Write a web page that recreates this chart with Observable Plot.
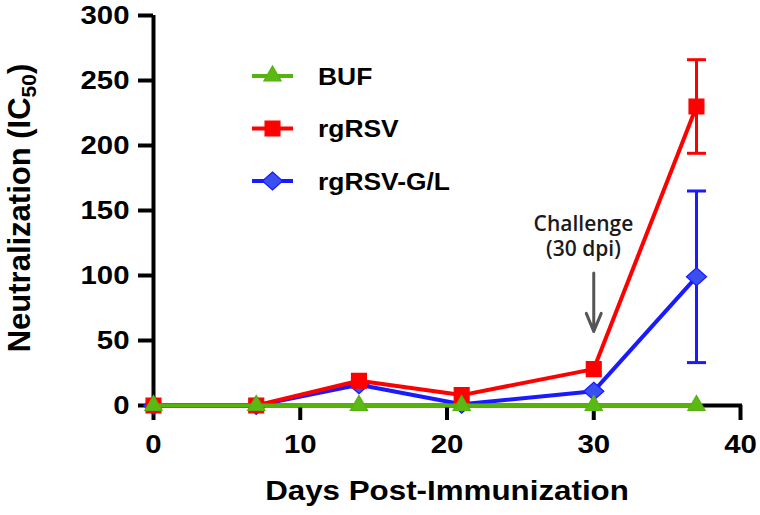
<!DOCTYPE html>
<html><head><meta charset="utf-8">
<script src="https://cdn.jsdelivr.net/npm/d3@7"></script>
<script src="https://cdn.jsdelivr.net/npm/@observablehq/plot@0.6"></script>
<style>
body{margin:0;background:#fff;}
#wrap{width:760px;height:515px;}
</style></head><body><div id="wrap"></div>
<script>
// ---- data ----
const days = [0, 7, 14, 21, 30, 37];
const seriesNames = ["BUF", "rgRSV", "rgRSV-G/L"];
const bufValues = [0, 0, 0, 0, 0, 0];
const rgrsvValues = [0, 0, 19, 8, 28, 230];
const rgrsvGLValues = [0, 0, 16, 1, 11, 99];
const errDays = [37];
const rgrsvLow = [194], rgrsvHigh = [266];
const rgrsvGLLow = [33], rgrsvGLHigh = [165];
const xTicks = [0, 10, 20, 30, 40];
const yTicks = [0, 50, 100, 150, 200, 250, 300];
const annotDay = [30];
const annotTextDay = [29.3];
const annotText = ["Challenge\n(30 dpi)"];
const annotTextY = [131];
const arrowFrom = [102], arrowTo = [57];
const xTitle = "Days Post-Immunization";
const yTitle = ["Neutralization (IC", "50", ")"];

// ---- styles ----
const colors = {"BUF": "#55b30c", "rgRSV": "#ff0000", "rgRSV-G/L": "#1a1aff"};
const fills = {"BUF": "#5cb814", "rgRSV": "#ff0000", "rgRSV-G/L": "#3a4ff0"};
const radii = {"BUF": 6.4, "rgRSV": 8.4, "rgRSV-G/L": 9};
const font = "Liberation Sans, Arial, Helvetica, sans-serif";

// wide diamond symbol
const wideDiamond = {draw(ctx, size) {
  const r = Math.sqrt(size / Math.PI), w = r * 1.12;
  ctx.moveTo(0, -r); ctx.lineTo(w, 0); ctx.lineTo(0, r); ctx.lineTo(-w, 0); ctx.closePath();
}};
const symbols = {"BUF": d3.symbolTriangle, "rgRSV": d3.symbolSquare, "rgRSV-G/L": wideDiamond};

const rowsOf = (name, vals) => days.map((d, i) => ({series: name, day: d, value: vals[i]}));
const data = {
  "BUF": rowsOf("BUF", bufValues),
  "rgRSV": rowsOf("rgRSV", rgrsvValues),
  "rgRSV-G/L": rowsOf("rgRSV-G/L", rgrsvGLValues)
};
const errs = {
  "rgRSV": errDays.map((d, i) => ({day: d, lo: rgrsvLow[i], hi: rgrsvHigh[i]})),
  "rgRSV-G/L": errDays.map((d, i) => ({day: d, lo: rgrsvGLLow[i], hi: rgrsvGLHigh[i]}))
};
const annot = annotDay.map((d, i) => ({day: d, tday: annotTextDay[i], text: annotText[i], ty: annotTextY[i], a1: arrowFrom[i], a2: arrowTo[i]}));

const cap = {draw(ctx, size) { const w = Math.sqrt(size / Math.PI); ctx.moveTo(-w, 0); ctx.lineTo(w, 0); }};

function seriesMarks(name) {
  const m = [];
  if (errs[name]) {
    m.push(Plot.ruleX(errs[name], {x: "day", y1: "lo", y2: "hi", stroke: colors[name], strokeWidth: 3}));
    m.push(Plot.dot(errs[name], {x: "day", y: "lo", symbol: cap, r: 9.5, stroke: colors[name], strokeWidth: 3, fill: "none"}));
    m.push(Plot.dot(errs[name], {x: "day", y: "hi", symbol: cap, r: 9.5, stroke: colors[name], strokeWidth: 3, fill: "none"}));
  }
  m.push(Plot.line(data[name], {x: "day", y: "value", stroke: colors[name], strokeWidth: 4}));
  m.push(Plot.dot(data[name], {x: "day", y: "value", symbol: symbols[name], r: radii[name], fill: fills[name], stroke: colors[name], strokeWidth: 1.2}));
  return m;
}

const chart = Plot.plot({
  width: 760, height: 515,
  marginLeft: 153, marginRight: 20, marginTop: 15, marginBottom: 110,
  x: {domain: [0, 40]},
  y: {domain: [0, 300]},
  style: {fontFamily: font, background: "#fff", color: "#000"},
  marks: [
    Plot.axisY({ticks: yTicks, tickSize: 15, tickPadding: 9, fontSize: 26, fontWeight: "bold", label: null, strokeWidth: 4}),
    Plot.axisX({ticks: xTicks, tickSize: 15, tickPadding: 14, fontSize: 26, fontWeight: "bold", label: null, strokeWidth: 4}),
    Plot.ruleX([0], {strokeWidth: 4, stroke: "#000"}),
    Plot.ruleY([0], {strokeWidth: 4, stroke: "#000", strokeLinecap: "square"}),
    Plot.text([xTitle], {frameAnchor: "bottom", dy: 94, fontSize: 27, fontWeight: "bold", fill: "#000"}),
    Plot.text(annot, {x: "tday", y: "ty", text: "text", fontSize: 21, fontWeight: 600, fontFamily: "Open Sans, Noto Sans, sans-serif", fill: "#1a1a1a", lineHeight: 1.22}),
    Plot.arrow(annot, {x1: "day", x2: "day", y1: "a1", y2: "a2", stroke: "#555", strokeWidth: 3, headLength: 11, headAngle: 45}),
    ...seriesMarks("rgRSV-G/L"),
    ...seriesMarks("rgRSV"),
    ...seriesMarks("BUF")
  ]
});

document.getElementById("wrap").appendChild(chart);
const svg = d3.select(chart);

function stretch(sel, factor) {
  sel.each(function() {
    const len = this.getComputedTextLength();
    this.setAttribute("textLength", (len * factor).toFixed(1));
    this.setAttribute("lengthAdjust", "spacingAndGlyphs");
  });
}
stretch(svg.selectAll('g[aria-label="y-axis tick label"] text'), 1.13);
stretch(svg.selectAll('g[aria-label="x-axis tick label"] text'), 1.13);
stretch(svg.selectAll('text').filter(function() { return this.textContent === xTitle; }), 1.16);

// y-axis title with subscript
const yMid = (chart.scale("y").range[0] + chart.scale("y").range[1]) / 2;
const yt = svg.append("text")
  .attr("transform", `translate(30,${yMid - 2}) rotate(-90)`)
  .attr("text-anchor", "middle")
  .attr("font-family", font).attr("font-weight", "bold").attr("font-size", 31).attr("fill", "#000");
yt.append("tspan").text(yTitle[0]);
yt.append("tspan").text(yTitle[1]).attr("font-size", 21).attr("dy", 6);
yt.append("tspan").text(yTitle[2]).attr("dy", -6);

// legend
const lg = svg.append("g").attr("transform", "translate(252,76)");
seriesNames.forEach((name, i) => {
  const g = lg.append("g").attr("transform", `translate(0,${i * 52.5})`);
  g.append("line").attr("x1", 0).attr("x2", 41).attr("stroke", colors[name]).attr("stroke-width", 4);
  g.append("path").attr("transform", "translate(20.5,0)")
    .attr("d", d3.symbol(symbols[name], Math.PI * radii[name] * radii[name])())
    .attr("fill", fills[name]).attr("stroke", colors[name]).attr("stroke-width", 1.2);
  const t = g.append("text").attr("x", 66).attr("dy", "0.36em").attr("text-anchor", "start").text(name)
    .attr("font-family", font).attr("font-weight", "bold").attr("font-size", 24).attr("fill", "#000");
  stretch(t, 1.1);
});
</script>
</body></html>
